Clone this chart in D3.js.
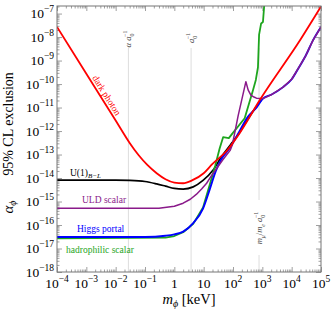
<!DOCTYPE html>
<html><head><meta charset="utf-8">
<script src="https://cdn.jsdelivr.net/npm/d3@7"></script>
<style>body{margin:0;background:#fff}svg{display:block}</style>
</head><body>
<svg id="c" width="332" height="313"></svg>
<script>
// ---------- data ----------
const xTickExps = [-4,-3,-2,-1,0,1,2,3,4,5];
const yTickExps = [-18,-17,-16,-15,-14,-13,-12,-11,-10,-9,-8,-7];

// [mass keV, alpha]
const darkPhoton = [[1e-4,2.7e-8],[1e-3,2.75e-10],[1e-2,2.8e-12],[0.03,3.1e-13],[0.06,9.5e-14],[0.12,3.6e-14],[0.25,1.6e-14],[0.5,8.9e-15],[1,6.4e-15],[2,6.0e-15],[4,7.9e-15],[10,1.6e-14],[20,4.0e-14],[60,1.4e-13],[170,8.3e-13],[800,2.0e-11],[2e4,7.9e-9],[1e5,2.0e-7]];
const u1BL = [[1e-4,8.1e-15],[1e-2,8.1e-15],[0.03,7.9e-15],[0.1,7.1e-15],[0.25,5.6e-15],[0.5,4.5e-15],[1,3.6e-15],[2,3.4e-15],[4.4,4.2e-15],[9.5,7.9e-15],[21,2.2e-14],[40,7.9e-14],[80,2.5e-13],[160,7.9e-13],[320,3.2e-12],[630,1.1e-11],[900,2.0e-11]];
const uldScalar = [[1e-4,5.2e-16],[0.3,5.2e-16],[1,6.3e-16],[2,8.5e-16],[3.5,1.25e-15],[5.6,2.0e-15],[8.5,3.4e-15],[12.6,6.0e-15],[18,1.2e-14],[28,2.6e-14],[45,6.0e-14],[80,1.5e-13],[95,2.6e-13],[150,4.5e-12],[275,1.26e-10],[330,5.5e-11],[407,3.4e-11],[520,2.8e-11],[630,2.5e-11],[1050,2.4e-11],[2000,3.5e-11],[5100,7.4e-11],[1e4,1.6e-10],[17800,5.2e-10],[3e4,1.6e-9],[53700,7.4e-9],[1e5,2.7e-8]];
const higgsPortal = [[1e-4,3.1e-17],[0.1,3.1e-17],[0.5,3.5e-17],[1,4.0e-17],[2,5.2e-17],[4.4,1.2e-16],[9.5,5.0e-16],[16,3.2e-15],[26,2.0e-14],[40,6.3e-14],[80,2.0e-13],[160,8.9e-13],[320,4.0e-12],[630,1.0e-11],[1050,2.4e-11],[2000,3.5e-11],[5100,7.4e-11],[1e4,1.6e-10],[17800,5.2e-10],[3e4,1.6e-9],[53700,7.4e-9],[1e5,2.7e-8]];
const hadrophilic = [[1e-4,2.7e-17],[0.5,2.9e-17],[1,3.4e-17],[2,4.9e-17],[4.4,1.12e-16],[9.5,5.6e-16],[16,5.0e-15],[25,3.5e-14],[35,1.8e-13],[46,5.5e-13],[72,5.0e-13],[89,7.0e-13],[250,3.5e-12],[480,5.5e-11],[600,1.5e-10],[710,5.2e-10],[775,1.26e-8],[910,3.8e-8],[1050,4.4e-8],[1180,3e-7]];

// reference scales (keV)
const refLines = [
  {m:0.0272, label:[["α","i"],[" a","i"],["0","sub"],["−1","sup"]], ly:39, gap:false},
  {m:3.73,   label:[["a","i"],["0","sub"],["−1","sup"]], ly:38, gap:false},
  {m:771,    label:[["m","i"],["μ","subi"],["/","n"],["m","i"],["e","subi"],[" a","i"],["0","sub"],["−1","sup"]], ly:228, gap:true}
];

// ---------- layout ----------
const L=57,R=321,T=6,B=272;
const FONT='"Liberation Serif","Times New Roman",serif';
const svg=d3.select("#c");
svg.append("rect").attr("width",332).attr("height",313).attr("fill","#fff");

const x=d3.scaleLog().domain([1e-4,1e5]).range([L,R]);
const y=d3.scaleLog().domain([1e-18,2.1e-7]).range([B,T]);

svg.append("defs").append("clipPath").attr("id","clip")
  .append("rect").attr("x",L).attr("y",T).attr("width",R-L).attr("height",B-T);

// reference lines
refLines.forEach(r=>{
  const px=x(r.m);
  if(r.gap){
    svg.append("line").attr("x1",px).attr("x2",px).attr("y1",48).attr("y2",r.ly-28).attr("stroke","#ddd").attr("stroke-width",1);
    svg.append("line").attr("x1",px).attr("x2",px).attr("y1",r.ly+27).attr("y2",B).attr("stroke","#ddd").attr("stroke-width",1);
  } else {
    svg.append("line").attr("x1",px).attr("x2",px).attr("y1",48).attr("y2",B).attr("stroke","#ddd").attr("stroke-width",1);
  }
  const t=svg.append("text").attr("transform",`translate(${px+3},${r.ly}) rotate(-90)`)
    .attr("text-anchor","middle").attr("font-family",FONT).attr("font-size",8.5).attr("fill","#444");
  let prevSub=false;
  r.label.forEach(([s,k])=>{
    const ts=t.append("tspan").text(s);
    if(k==="i"||k==="subi") ts.attr("font-style","italic");
    if(k==="sub"||k==="subi"){ts.attr("font-size",6).attr("dy",2.5);prevSub=true;}
    else if(k==="sup"){ts.attr("font-size",6).attr("dy",prevSub?-6.5:-4).attr("dx",prevSub?-3.4:0);prevSub=false;}
    else { if(prevSub){ts.attr("dy",-2.5);} prevSub=false; }
  });
});

// ticks
function minorVals(lo,hi){const v=[];for(let d=lo;d<=hi;d++)for(let k=2;k<=9;k++)v.push(k*Math.pow(10,d));return v;}
const xMaj=xTickExps.map(e=>Math.pow(10,e));
const xMin=minorVals(-4,4);
const yMaj=yTickExps.map(e=>Math.pow(10,e));
const yMin=minorVals(-18,-7).filter(v=>v<=2.1e-7);
const tickCol="#888";
function drawAxis(gen,tr,vals,size){
  const g=svg.append("g").attr("transform",tr).call(gen.tickValues(vals).tickSize(size).tickSizeOuter(0).tickFormat(""));
  g.select(".domain").remove();
  g.selectAll("line").attr("stroke",tickCol).attr("stroke-width",0.8);
}
drawAxis(d3.axisBottom(x),`translate(0,${B})`,xMaj,-5);
drawAxis(d3.axisBottom(x),`translate(0,${B})`,xMin,-2.5);
drawAxis(d3.axisTop(x),`translate(0,${T})`,xMaj,-5);
drawAxis(d3.axisTop(x),`translate(0,${T})`,xMin,-2.5);
drawAxis(d3.axisLeft(y),`translate(${L},0)`,yMaj,-5);
drawAxis(d3.axisLeft(y),`translate(${L},0)`,yMin,-2.5);
drawAxis(d3.axisRight(y),`translate(${R},0)`,yMaj,-5);
drawAxis(d3.axisRight(y),`translate(${R},0)`,yMin,-2.5);

// curves
const lineM=d3.line().x(d=>x(d[0])).y(d=>y(d[1])).curve(d3.curveMonotoneX);
const lineL=d3.line().x(d=>x(d[0])).y(d=>y(d[1]));
const cg=svg.append("g").attr("clip-path","url(#clip)");
const series=[
  {d:u1BL,c:"#000",w:1.7,g:lineM},
  {d:hadrophilic,c:"#1ea51e",w:1.8,g:lineL},
  {d:higgsPortal,c:"#0000ff",w:1.9,g:lineM},
  {d:uldScalar,c:"#8a1a8a",w:1.5,g:lineL},
  {d:darkPhoton,c:"#ff0000",w:1.8,g:lineM}
];
series.forEach(s=>cg.append("path").attr("d",s.g(s.d)).attr("fill","none").attr("stroke",s.c).attr("stroke-width",s.w).attr("stroke-linejoin","round"));

// frame
svg.append("rect").attr("x",L).attr("y",T).attr("width",R-L).attr("height",B-T).attr("fill","none").attr("stroke","#777").attr("stroke-width",1);

// tick labels
xTickExps.forEach(e=>{
  const t=svg.append("text").attr("x",x(Math.pow(10,e))).attr("y",288).attr("text-anchor","middle")
    .attr("font-family",FONT).attr("font-size",13.5).attr("fill","#000");
  if(e===0) t.text("1"); else if(e===1) t.text("10");
  else {t.append("tspan").text("10");t.append("tspan").attr("font-size",9.5).attr("dy",-6).text(e<0?"−"+(-e):String(e));}
});
yTickExps.forEach(e=>{
  const t=svg.append("text").attr("x",54).attr("y",y(Math.pow(10,e))+4.5).attr("text-anchor","end")
    .attr("font-family",FONT).attr("font-size",13.5).attr("fill","#000");
  t.append("tspan").text("10");t.append("tspan").attr("font-size",9.5).attr("dy",-6).text("−"+(-e));
});

// axis titles
const yt1=svg.append("text").attr("transform","translate(13,207) rotate(-90)").attr("text-anchor","middle")
  .attr("font-family",FONT).attr("font-size",15).attr("fill","#000");
yt1.append("tspan").attr("font-style","italic").text("α");
yt1.append("tspan").attr("font-style","italic").attr("font-size",10).attr("dy",3).text("ϕ");
svg.append("text").attr("transform","translate(13,124) rotate(-90)").attr("text-anchor","middle")
  .attr("font-family",FONT).attr("font-size",14).attr("fill","#000").text("95% CL exclusion");
const xt=svg.append("text").attr("x",189).attr("y",304).attr("text-anchor","middle")
  .attr("font-family",FONT).attr("font-size",14.5).attr("fill","#000");
xt.append("tspan").attr("font-style","italic").text("m");
xt.append("tspan").attr("font-style","italic").attr("font-size",10).attr("dy",3).text("ϕ");
xt.append("tspan").attr("dy",-3).text(" [keV]");

// curve labels
svg.append("text").attr("transform","translate(104,97) rotate(58)").attr("text-anchor","middle")
  .attr("font-family",FONT).attr("font-size",9.5).attr("fill","#ff0000").text("dark photon");
const u=svg.append("text").attr("x",70).attr("y",176).attr("font-family",FONT).attr("font-size",9.5).attr("fill","#000");
u.append("tspan").text("U(1)");
u.append("tspan").attr("font-style","italic").attr("font-size",7).attr("dy",2).text("B−L");
svg.append("text").attr("x",82).attr("y",203).attr("font-family",FONT).attr("font-size",9.5).attr("fill","#8a1a8a").text("ULD scalar");
svg.append("text").attr("x",77).attr("y",232).attr("font-family",FONT).attr("font-size",9.5).attr("fill","#0000ff").text("Higgs portal");
svg.append("text").attr("x",66).attr("y",253).attr("font-family",FONT).attr("font-size",9.5).attr("fill","#1ea51e").text("hadrophilic scalar");
</script>
</body></html>
